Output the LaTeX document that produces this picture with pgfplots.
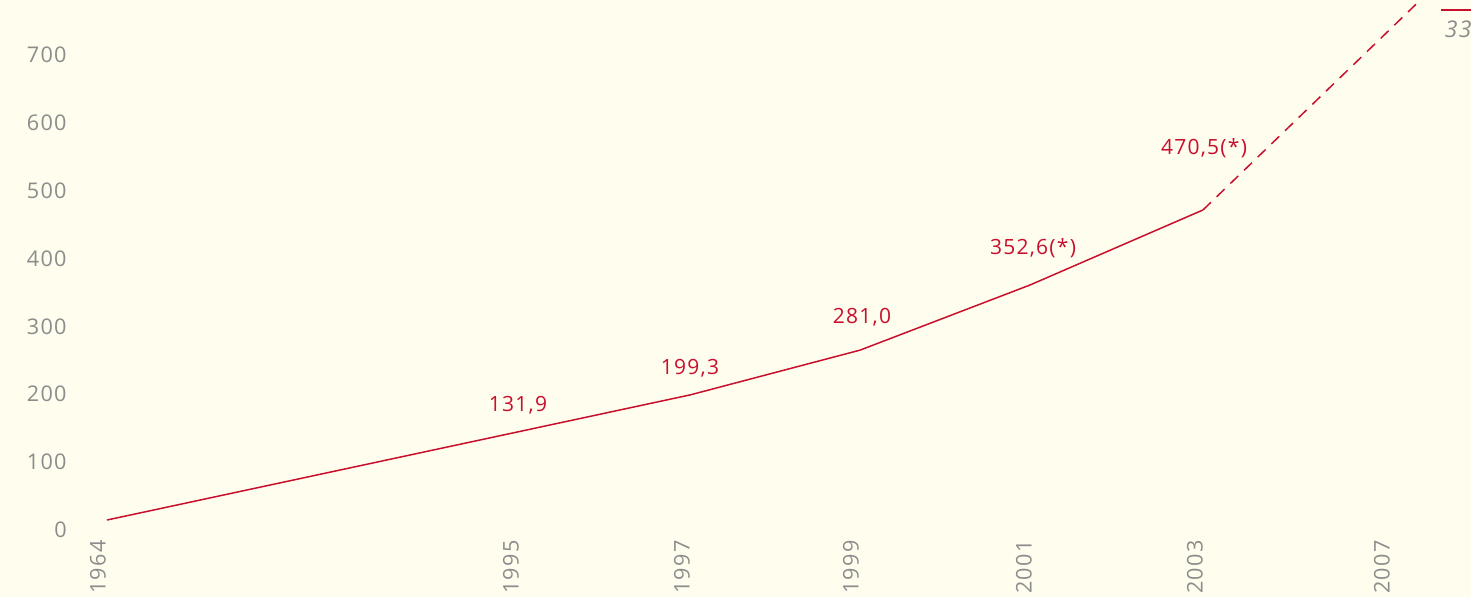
\documentclass[border=0pt]{standalone}
\usepackage{pgfplots}
\pgfplotsset{compat=1.18}
\usepackage{fontspec}
\setmainfont{Open Sans}[LetterSpace=6]
\definecolor{bg}{HTML}{FFFDEE}
\definecolor{lred}{HTML}{C8102E}
\definecolor{tgray}{HTML}{8C8C8C}
\begin{document}
\begin{tikzpicture}
\fill[bg] (0,0) rectangle (735.5pt,298.5pt);
\useasboundingbox (0,0) rectangle (735.5pt,298.5pt);
\begin{axis}[
  at={(35pt,28.5pt)}, anchor=south west,
  scale only axis, width=700.5pt, height=270pt,
  xmin=70, xmax=1471, ymin=-14.74, ymax=781,
  axis lines=none,
  clip=true,
  xtick={98,511,682,851,1024,1195,1382},
  xticklabels={1964,1995,1997,1999,2001,2003,2007},
  ytick={0,100,...,700},
  tick style={draw=none},
  hide axis=false,
  axis line style={draw=none},
  /pgf/number format/assume math mode=true,
  ticklabel style={font=\fontsize{10.8}{13}\selectfont, text=tgray},
  yticklabel style={anchor=east, inner sep=1.5pt},
  xticklabel style={rotate=90, anchor=east, inner sep=0pt},
]
\addplot[lred, line width=0.75pt] coordinates {
  (107,14.7) (690,199) (860,265) (1030,361) (1203,471.6)};
\addplot[lred, line width=0.75pt, dash pattern=on 5.5pt off 4pt] coordinates {
  (1203,471.6) (1425,787.5)};
\begin{scope}[every node/.style={text=lred, font=\fontsize{10.5}{12}\selectfont}]
\node at (axis cs:518,184.1) {131,9};
\node at (axis cs:690,238.6) {199,3};
\node at (axis cs:862,313.8) {281,0};
\node at (axis cs:1033,415.5) {352,6(*)};
\node at (axis cs:1204,562.9) {470,5(*)};
\end{scope}
\end{axis}
\draw[lred, line width=0.6pt] (720.5pt,293.5pt) -- (735.5pt,293.5pt);
\node[anchor=east, inner sep=0pt, text=tgray, font=\fontsize{11.5}{13}\itshape\selectfont] at (736pt,284pt) {33};
\end{tikzpicture}
\end{document}
